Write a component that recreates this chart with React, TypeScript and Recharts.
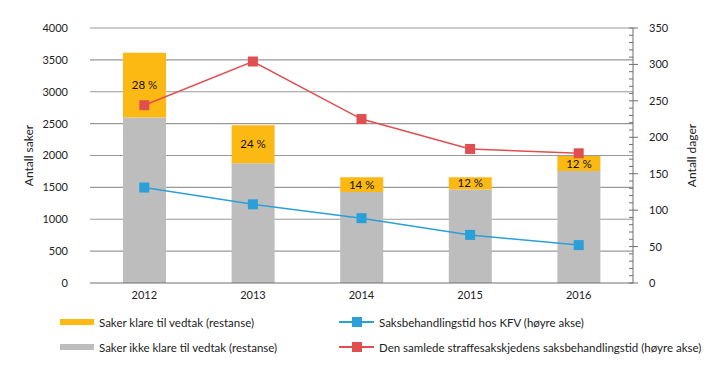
import { ComposedChart, Bar, Line, XAxis, YAxis, LabelList } from 'recharts';

const years = ['2012', '2013', '2014', '2015', '2016'];
const ikkeKlare = [2595, 1880, 1428, 1468, 1755];
const klare = [1015, 594, 230, 192, 238];
const andel = ['28 %', '24 %', '14 %', '12 %', '12 %'];
const kfvDager = [131, 108, 89, 66, 52];
const kjedeDager = [244, 304, 225, 184, 178];

const leftTicks = [0, 500, 1000, 1500, 2000, 2500, 3000, 3500, 4000];
const rightTicks = Array.from({ length: 36 }, (_, i) => i * 10);
const LEFT_MAX = 4000;

const YELLOW = '#FDB913';
const GREY = '#BDBDBD';
const BLUE = '#2A9FD8';
const RED = '#E04E50';
const AXIS = '#6e6e6e';
const GRID = '#999999';
const FONT = 'Lato, "Open Sans", sans-serif';

// layout
const W = 719;
const H = 365;
const MARGIN = { top: 28, right: 6, bottom: 0, left: 10 };
const AXIS_W = 80;
const PLOT_LEFT = MARGIN.left + AXIS_W;
const PLOT_RIGHT = W - MARGIN.right - AXIS_W;

const data = years.map((year, i) => ({
  year,
  ikkeKlare: ikkeKlare[i],
  klare: klare[i],
  andel: andel[i],
  kfv: kfvDager[i],
  kjede: kjedeDager[i],
}));

// gridlines drawn once, under the bars, from the first bar's background column
function GridBackground(props: any) {
  const { index, y, height } = props;
  if (index !== 0 || y == null || height == null) return null;
  return (
    <g>
      {leftTicks.slice(1).map((v) => {
        const gy = y + height * (1 - v / LEFT_MAX);
        return <line key={v} x1={PLOT_LEFT} x2={PLOT_RIGHT} y1={gy} y2={gy} stroke={GRID} strokeWidth={1.2} />;
      })}
    </g>
  );
}

function Square(props: any) {
  const { cx, cy, fill } = props;
  if (cx == null || cy == null) return null;
  return <rect x={cx - 5} y={cy - 5} width={10} height={10} fill={fill} />;
}

function RightTick(props: any) {
  const { x, y, payload } = props;
  const v = payload.value;
  const major = v % 50 === 0;
  return (
    <g>
      <line x1={x - 4} x2={major ? x + 5 : x} y1={y} y2={y} stroke={AXIS} strokeWidth={1} />
      {major && (
        <text x={x + 16} y={y} dy={4} fontSize={11} fill="#222" fontFamily={FONT}>
          {v}
        </text>
      )}
    </g>
  );
}

function LegendRow({ top, left, kind, color, text }: { top: number; left: number; kind: 'bar' | 'line'; color: string; text: string }) {
  return (
    <div style={{ position: 'absolute', top: top - 8, left, height: 16, display: 'flex', alignItems: 'center', whiteSpace: 'nowrap' }}>
      {kind === 'bar' ? (
        <div style={{ width: 34, height: 6, background: color, marginRight: 5 }} />
      ) : (
        <div style={{ position: 'relative', width: 35, height: 10, marginRight: 5 }}>
          <div style={{ position: 'absolute', top: 4, left: 0, width: 35, height: 1.5, background: color }} />
          <div style={{ position: 'absolute', top: 0, left: 13, width: 10, height: 10, background: color }} />
        </div>
      )}
      <span style={{ fontSize: 11.5, color: '#222', fontFamily: FONT }}>{text}</span>
    </div>
  );
}

export default function App() {
  return (
    <div style={{ position: 'absolute', left: 0, top: 0, width: W, height: H, background: '#fff', fontFamily: FONT }}>
      <ComposedChart width={W} height={H} data={data} margin={MARGIN}>
        <XAxis
          dataKey="year"
          axisLine={{ stroke: AXIS }}
          tickLine={false}
          tick={{ fontSize: 11, fill: '#222', fontFamily: FONT }}
          height={82}
        />
        <YAxis
          domain={[0, LEFT_MAX]}
          ticks={leftTicks}
          width={AXIS_W}
          axisLine={false}
          tickLine={false}
          tickMargin={16}
          tick={{ fontSize: 11, fill: '#222', fontFamily: FONT }}
          label={{ value: 'Antall saker', angle: -90, position: 'insideLeft', offset: 19, style: { textAnchor: 'middle', fontSize: 12, fill: '#222', fontFamily: FONT } }}
        />
        <YAxis
          yAxisId="right"
          orientation="right"
          domain={[0, 350]}
          ticks={rightTicks}
          interval={0}
          width={AXIS_W}
          axisLine={{ stroke: AXIS }}
          tickLine={false}
          tickSize={0}
          tickMargin={0}
          tick={<RightTick />}
          label={{ value: 'Antall dager', angle: -90, position: 'insideRight', offset: 21, style: { textAnchor: 'middle', fontSize: 12, fill: '#222', fontFamily: FONT } }}
        />
        <Bar dataKey="ikkeKlare" stackId="a" fill={GREY} barSize={43} background={<GridBackground />} isAnimationActive={false} />
        <Bar dataKey="klare" stackId="a" fill={YELLOW} barSize={43} isAnimationActive={false}>
          <LabelList dataKey="andel" position="center" style={{ fontSize: 11.5, fill: '#111', fontFamily: FONT }} />
        </Bar>
        <Line yAxisId="right" dataKey="kfv" stroke={BLUE} strokeWidth={1.5} dot={<Square fill={BLUE} />} activeDot={false} isAnimationActive={false} />
        <Line yAxisId="right" dataKey="kjede" stroke={RED} strokeWidth={1.5} dot={<Square fill={RED} />} activeDot={false} isAnimationActive={false} />
      </ComposedChart>
      <LegendRow top={322} left={60} kind="bar" color={YELLOW} text="Saker klare til vedtak (restanse)" />
      <LegendRow top={347} left={60} kind="bar" color={GREY} text="Saker ikke klare til vedtak (restanse)" />
      <LegendRow top={322} left={339} kind="line" color={BLUE} text="Saksbehandlingstid hos KFV (høyre akse)" />
      <LegendRow top={347} left={339} kind="line" color={RED} text="Den samlede straffesakskjedens saksbehandlingstid (høyre akse)" />
    </div>
  );
}
